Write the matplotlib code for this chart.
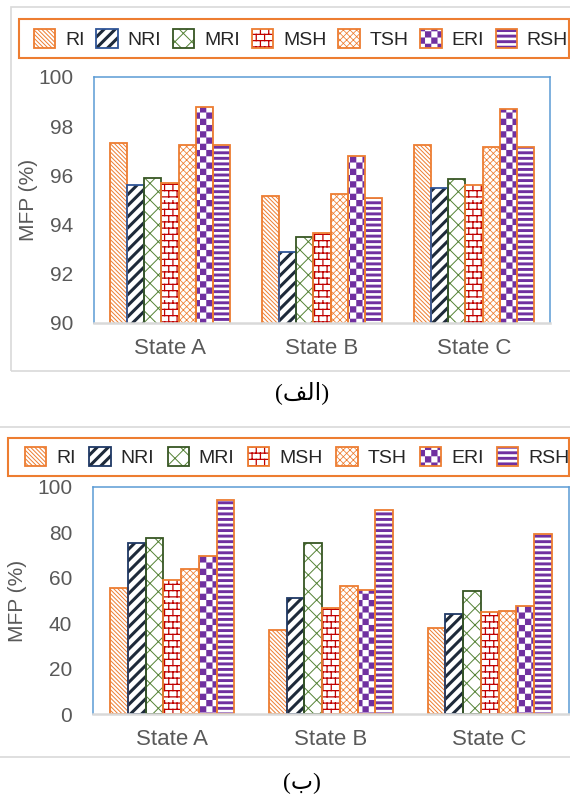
import warnings
warnings.filterwarnings('ignore')
import numpy as np
import matplotlib
matplotlib.use('Agg')
import matplotlib.pyplot as plt
import matplotlib.hatch as mhatch
from matplotlib.path import Path
from matplotlib.patches import Rectangle

# ---------------- data ----------------
states = ['State A', 'State B', 'State C']
methods = ['RI', 'NRI', 'MRI', 'MSH', 'TSH', 'ERI', 'RSH']

top_ri = [97.3, 95.15, 97.25]
top_nri = [95.6, 92.9, 95.5]
top_mri = [95.9, 93.5, 95.85]
top_msh = [95.7, 93.65, 95.6]
top_tsh = [97.25, 95.25, 97.15]
top_eri = [98.8, 96.8, 98.7]
top_rsh = [97.25, 95.1, 97.15]

bot_ri = [55.5, 37.2, 37.9]
bot_nri = [75.3, 51.1, 43.9]
bot_mri = [77.5, 75.5, 54.3]
bot_msh = [59.1, 46.9, 45.0]
bot_tsh = [63.9, 56.2, 45.2]
bot_eri = [69.4, 54.5, 47.4]
bot_rsh = [94.4, 89.7, 79.1]

top_ticks = [90, 92, 94, 96, 98, 100]
bot_ticks = [0, 20, 40, 60, 80, 100]

top_series = [top_ri, top_nri, top_mri, top_msh, top_tsh, top_eri, top_rsh]
bot_series = [bot_ri, bot_nri, bot_mri, bot_msh, bot_tsh, bot_eri, bot_rsh]


# ---------------- custom hatches ----------------
class CheckerHatch(mhatch.HatchPatternBase):
    def __init__(self, hatch, density):
        k = hatch.count('c')
        self.n = 16 if k else 0
        self.num_vertices = (self.n * self.n // 2) * 5 if k else 0

    def set_vertices_and_codes(self, vertices, codes):
        n = self.n
        s = 1.0 / n
        idx = 0
        for i in range(n):
            for j in range(n):
                if (i + j) % 2 == 0:
                    x0, y0 = j * s, i * s
                    vertices[idx:idx + 5] = [(x0, y0), (x0 + s, y0), (x0 + s, y0 + s),
                                             (x0, y0 + s), (x0, y0)]
                    codes[idx:idx + 5] = [Path.MOVETO, Path.LINETO, Path.LINETO,
                                          Path.LINETO, Path.CLOSEPOLY]
                    idx += 5


class BrickHatch(mhatch.HatchPatternBase):
    def __init__(self, hatch, density):
        k = hatch.count('b')
        self.rows = 16 if k else 0
        self.cols = 12
        self.num_vertices = (self.rows * 2 + self.rows * self.cols * 2) if k else 0

    def set_vertices_and_codes(self, vertices, codes):
        r, c = self.rows, self.cols
        idx = 0
        for i in range(r):
            y = (i + 0.5) / r
            vertices[idx] = (0.0, y)
            vertices[idx + 1] = (1.0, y)
            codes[idx] = Path.MOVETO
            codes[idx + 1] = Path.LINETO
            idx += 2
            for j in range(c):
                x = (j + 0.25 + 0.5 * (i % 2)) / c
                vertices[idx] = (x, y)
                vertices[idx + 1] = (x, y + 1.0 / r)
                codes[idx] = Path.MOVETO
                codes[idx + 1] = Path.LINETO
                idx += 2


mhatch._hatch_types.append(CheckerHatch)
mhatch._hatch_types.append(BrickHatch)

# ---------------- styling ----------------
plt.rcParams['font.family'] = ['Liberation Sans', 'DejaVu Sans']
ORANGE = '#ED7D31'
PURPLE = '#7030A0'
GREY_TXT = '#595959'

# hatch, hatch colour, hatch linewidth, edge colour (top), edge colour (bottom)
styles = [
    ('\\' * 8, ORANGE, 0.7, ORANGE, ORANGE),
    ('///', '#1E2A3A', 2.2, '#2F5597', '#1F3864'),
    ('xx', '#548235', 0.7, '#375623', '#375623'),
    ('b', '#C00000', 0.9, ORANGE, ORANGE),
    ('xxxxx', ORANGE, 0.55, ORANGE, ORANGE),
    ('c', PURPLE, 0.05, ORANGE, ORANGE),
    ('---', PURPLE, 2.1, ORANGE, ORANGE),
]
hatch_lw = {st[0]: st[2] for st in styles}

fig = plt.figure(figsize=(5.7, 7.98), dpi=100)
W, H = 570.0, 798.0


def fx(px):
    return px / W


def fy(py):
    return 1 - py / H


def set_hlw(patches, lw):
    for p in patches:
        if hasattr(p, 'set_hatch_linewidth'):
            p.set_hatch_linewidth(lw)


def draw_panel(rect, series, ticks, ylim, edge_idx, leg_box, leg_anchor, colsp, ylab_x):
    ax = fig.add_axes(rect)
    n = len(methods)
    w = 1.0 / (n + 1.94)
    x = np.arange(len(states))
    handles = []
    for k, (vals, st) in enumerate(zip(series, styles)):
        hatch, hcol, hlw, e_top, e_bot = st
        ecol = e_top if edge_idx == 0 else e_bot
        pos = x + (k - (n - 1) / 2) * w
        with plt.rc_context({'hatch.linewidth': hlw}):
            b1 = ax.bar(pos, vals, width=w, color='white', edgecolor=hcol,
                        linewidth=0, hatch=hatch, zorder=2)
            set_hlw(b1, hlw)
            b2 = ax.bar(pos, vals, width=w, fill=False, edgecolor=ecol,
                        linewidth=1.3, zorder=3)
        handles.append((b1[0], b2[0]))
    ax.set_xlim(-0.5, len(states) - 0.5)
    ax.set_ylim(*ylim)
    ax.set_yticks(ticks)
    ax.set_xticks(x)
    ax.set_xticklabels(states)
    ax.tick_params(length=0, labelsize=15, colors=GREY_TXT)
    ax.tick_params(axis='x', labelsize=16, pad=11)
    ax.tick_params(axis='y', pad=15)
    for s in ['top', 'left', 'right']:
        ax.spines[s].set_color('#5B9BD5')
        ax.spines[s].set_linewidth(1.1)
    ax.spines['bottom'].set_color('#D9D9D9')
    ax.spines['bottom'].set_linewidth(1.8)
    ax.spines['bottom'].set_zorder(4)
    ax.set_ylabel('MFP (%)', fontsize=15, color=GREY_TXT)
    ax.yaxis.set_label_coords(ylab_x, 0.5)

    # legend frame (orange box reaching the right edge)
    bx0, by0, bx1, by1 = leg_box
    fig.add_artist(Rectangle((fx(bx0), fy(by1)), fx(bx1) - fx(bx0), fy(by0) - fy(by1),
                             transform=fig.transFigure, fill=False, edgecolor=ORANGE,
                             linewidth=1.5, clip_on=False))
    leg = fig.legend(handles, methods, loc='center left', bbox_to_anchor=leg_anchor,
                     ncol=7, fontsize=14, frameon=False,
                     handlelength=1.1, handleheight=1.1, handletextpad=0.5,
                     columnspacing=colsp, borderpad=0, borderaxespad=0)
    for t in leg.get_texts():
        t.set_color('#262626')
    for p in leg.findobj(Rectangle):
        h = p.get_hatch()
        if h in hatch_lw:
            set_hlw([p], hatch_lw[h])
    return ax


ax1 = draw_panel([fx(94), fy(323), fx(550) - fx(94), fy(77) - fy(323)],
                 top_series, top_ticks, (90, 100), 0,
                 (19, 19, 569, 58), (fx(34), fy(39)), 0.61, -0.123)
ax2 = draw_panel([fx(93), fy(714), fx(569) - fx(93), fy(487) - fy(714)],
                 bot_series, bot_ticks, (0, 100), 1,
                 (8, 438, 569, 476), (fx(25), fy(457)), 0.70, -0.139)

# panel frames
fig.add_artist(Rectangle((fx(11), fy(371)), 1.2, fy(7) - fy(371), transform=fig.transFigure,
                         fill=False, edgecolor='#D9D9D9', linewidth=1.2, clip_on=False))
fig.add_artist(Rectangle((-0.1, fy(757)), 1.2, fy(427) - fy(757), transform=fig.transFigure,
                         fill=False, edgecolor='#D9D9D9', linewidth=1.2, clip_on=False))

# captions (Persian letters in visual order with presentation forms)
cap_family = ['Liberation Serif', 'DejaVu Sans']
fig.text(fx(302), fy(393), '(\uFED2\uFEDF\uFE8D)', ha='center', va='center',
         fontsize=17, family=cap_family, color='black')
fig.text(fx(302), fy(783), '(\uFE8F)', ha='center', va='center',
         fontsize=17, family=cap_family, color='black')

fig.savefig('out.png', dpi=100, facecolor='white')
